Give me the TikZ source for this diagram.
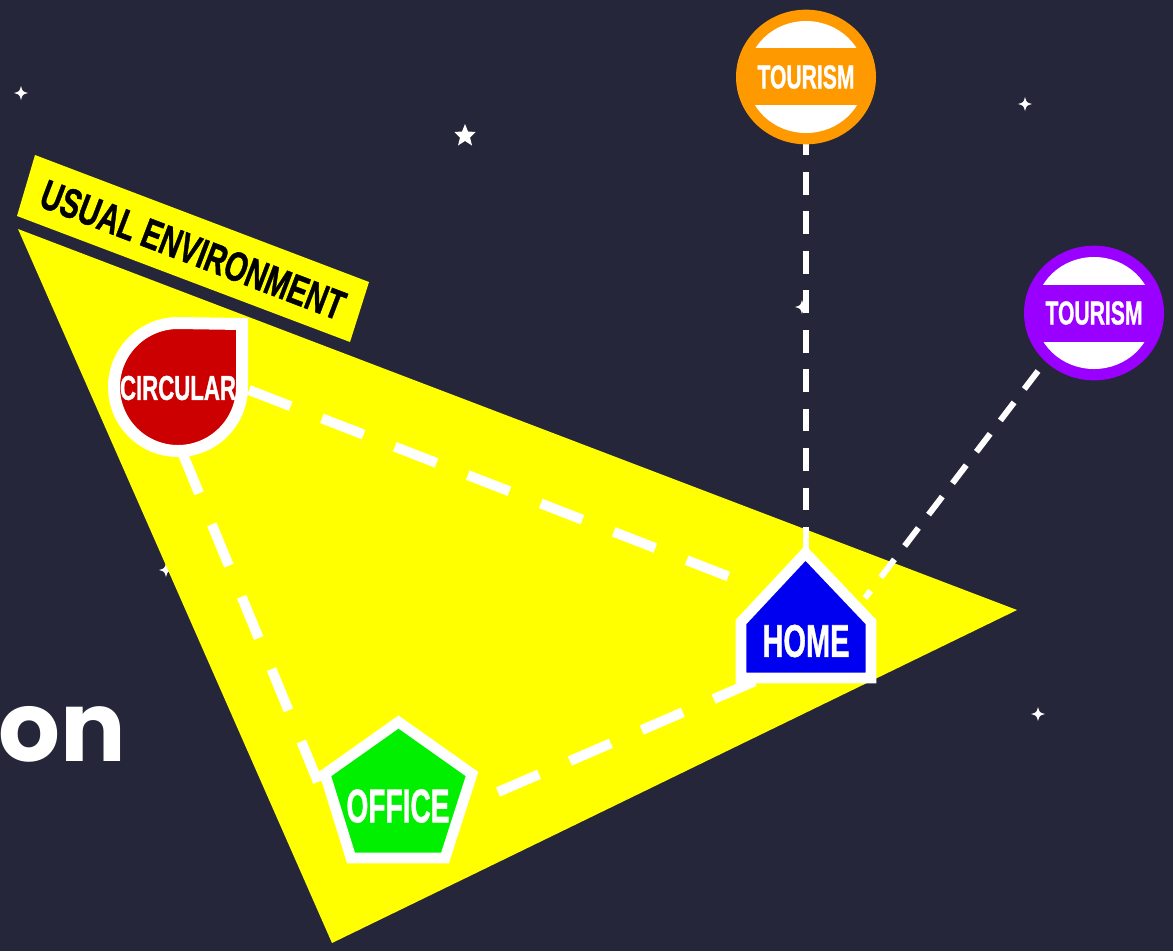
\documentclass[tikz,border=0pt]{standalone}
\usepackage{fontspec}
\usepackage{graphicx}
\newfontfamily\oswfont[BoldFeatures={FakeBold=1.3}]{Liberation Sans}
\newfontfamily\onfont{Poppins}
\usetikzlibrary{calc,shapes.geometric}
\definecolor{bgc}{HTML}{252639}
\definecolor{ylw}{HTML}{FFFF00}
\definecolor{redc}{HTML}{CC0000}
\definecolor{bluec}{HTML}{0000F0}
\definecolor{greenc}{HTML}{00F000}
\definecolor{orangec}{HTML}{FF9900}
\definecolor{purplec}{HTML}{9900FF}
\newcommand{\fitlabel}[3]{\resizebox{\dimexpr #2pt*3/4\relax}{\dimexpr #3pt*3/4\relax}{\oswfont\bfseries #1}}
\newcommand{\sparkle}[2]{\fill[white] (#1-7,#2) .. controls (#1-1.5,#2-1.5) .. (#1,#2-7) .. controls (#1+1.5,#2-1.5) .. (#1+7,#2) .. controls (#1+1.5,#2+1.5) .. (#1,#2+7) .. controls (#1-1.5,#2+1.5) .. cycle;}
\tikzset{
  wide dash/.style={draw=white,line width=7.5pt,dash pattern=on 33.5pt off 25.2pt},
  thin dash/.style={draw=white,line width=4.5pt,dash pattern=on 17pt off 12.6pt},
  shape line/.style={draw=white,line width=8pt,miter limit=10,line join=miter},
  label text/.style={inner sep=0pt,text=white},
  badge/.style={ellipse,minimum width=105pt,minimum height=101pt,inner sep=0pt}
}
\begin{document}
\begin{tikzpicture}[x=0.75pt,y=-0.75pt]
\useasboundingbox (0,0) rectangle (1173,951);
\fill[bgc] (0,0) rectangle (1173,951);
% stars
\sparkle{21}{93}
\sparkle{1025}{104}
\sparkle{802}{307}
\sparkle{166}{570}
\sparkle{1038}{714}
\fill[white] (465,124) -- (468,131.5) -- (475.5,132) -- (470,137.5) -- (472,145.5) -- (465,141) -- (458,145.5) -- (460,137.5) -- (454.5,132) -- (462,131.5) -- cycle;
% partial word
\node[anchor=base west,inner sep=0pt,text=white] (onword) at (-2,761) {\onfont\bfseries\fontsize{73pt}{73pt}\selectfont on};
% triangle and banner
\fill[ylw] (18,229) -- (1017,610) -- (332,943) -- cycle;
\fill[ylw] (35,155) -- (369,282) -- (350,342) -- (17,216) -- cycle;
\node[inner sep=0pt,rotate=-20.9,text=black] (usual) at (193,250) {\fitlabel{USUAL ENVIRONMENT}{322}{29}};
% anchors
\coordinate (circE) at (249,390);
\coordinate (circS) at (182,452);
\coordinate (homeW) at (735,579);
\coordinate (homeSW) at (760,679);
\coordinate (homeN) at (806,552);
\coordinate (homeNE) at (865,598);
\coordinate (officeNW) at (318,782);
\coordinate (officeE) at (498,792);
\coordinate (tourA) at (806,132.5);
\coordinate (tourB) at (1038,371);
% connectors
\draw[wide dash] (circE) -- (homeW);
\draw[wide dash] (circS) -- (officeNW);
\draw[wide dash] (officeE) -- (homeSW);
\draw[thin dash] (tourA) -- (homeN);
\draw[thin dash] (tourB) -- (homeNE);
% circular
\draw[shape line,line width=9pt,fill=redc] (242,324) -- (242,387) arc[start angle=0,end angle=-270,radius=48pt] -- cycle;
\node[label text] (circular) at (178,388) {\fitlabel{CIRCULAR}{116}{24}};
% home
\draw[shape line,fill=bluec] (805.5,553) -- (871,622) -- (871,678) -- (741,678) -- (741,622) -- cycle;
\node[label text] (home) at (806,641) {\fitlabel{HOME}{87}{32}};
% office
\draw[shape line,fill=greenc] (398.5,722) -- (472,774) -- (445,858) -- (351,858) -- (325,774) -- cycle;
\node[label text] (office) at (398,806) {\fitlabel{OFFICE}{103}{33}};
% tourism badges
\node[badge,fill=orangec] (tourismA) at (806,77) {};
\begin{scope}
\clip (806,77) ellipse[x radius=44.25pt,y radius=42pt];
\fill[white] (730,10) rectangle (880,48);
\fill[white] (730,105) rectangle (880,144);
\end{scope}
\node[label text] at (tourismA.center) {\fitlabel{TOURISM}{97}{23}};
\node[badge,fill=purplec] (tourismB) at (1094,313) {};
\begin{scope}
\clip (1094,313) ellipse[x radius=44.25pt,y radius=42pt];
\fill[white] (1020,245) rectangle (1170,285);
\fill[white] (1020,342) rectangle (1170,381);
\end{scope}
\node[label text] at (tourismB.center) {\fitlabel{TOURISM}{97}{23}};
\end{tikzpicture}
\end{document}
